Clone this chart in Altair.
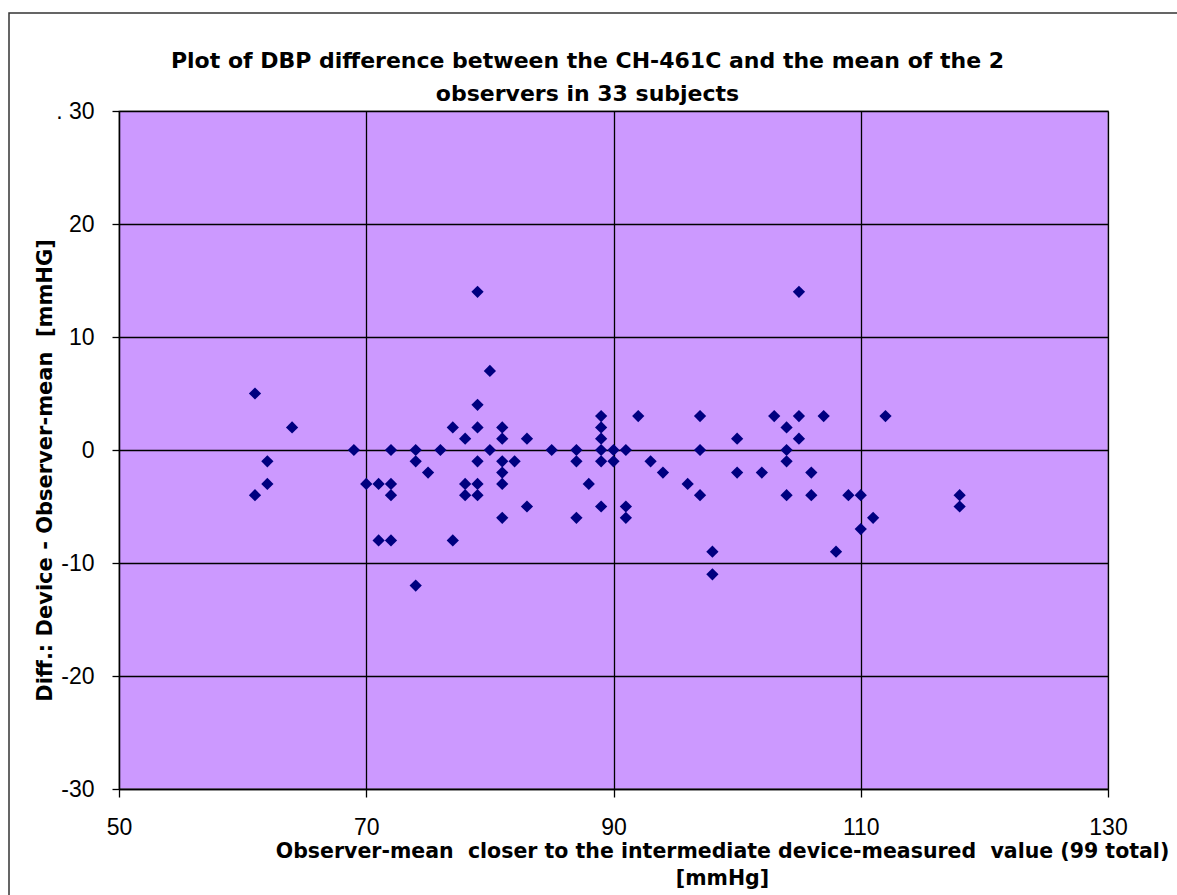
import altair as alt
import pandas as pd

# Observer-mean (x) and device - observer-mean difference (y)
obs_mean = [79, 80, 61, 64, 79, 77, 79, 81, 78, 81, 83, 69, 72, 74, 76, 80, 85,
            62, 74, 79, 81, 82, 75, 81, 62, 70, 71, 72, 78, 79, 81, 61, 72, 78, 79,
            83, 81, 71, 72, 77, 74,
            105, 89, 89, 89, 89, 90, 91, 87, 87, 89, 90, 92, 93, 94, 88, 89, 87, 91,
            91, 97, 97, 96, 97, 98, 98, 100, 100, 102, 103, 104, 105, 105, 107, 104,
            104, 106, 104, 106, 109, 108,
            112, 110, 111, 110, 118, 118]
diff = [14, 7, 5, 2, 4, 2, 2, 2, 1, 1, 1, 0, 0, 0, 0, 0, 0,
        -1, -1, -1, -1, -1, -2, -2, -3, -3, -3, -3, -3, -3, -3, -4, -4, -4, -4,
        -5, -6, -8, -8, -8, -12,
        14, 3, 2, 1, 0, 0, 0, 0, -1, -1, -1, 3, -1, -2, -3, -5, -6, -5,
        -6, 3, 0, -3, -4, -9, -11, 1, -2, -2, 3, 2, 3, 1, 3, 0,
        -1, -2, -4, -4, -4, -9,
        3, -4, -6, -7, -4, -5]

x_ticks = [50, 70, 90, 110, 130]
y_ticks = [-30, -20, -10, 0, 10, 20, 30]

title_lines = ["Plot of DBP difference between the CH-461C and the mean of the 2",
               "observers in 33 subjects"]
x_title = ["Observer-mean\u00a0 closer to the intermediate device-measured\u00a0 value (99 total)",
           "[mmHg]"]
y_title = "Diff.: Device - Observer-mean\u00a0 [mmHG]"

df = pd.DataFrame({"x": obs_mean, "y": diff})

FONT = "Liberation Sans"
BOLD_FONT = "DejaVu Sans"

points = alt.Chart(df).mark_point(
    shape="diamond", filled=True, color="#000080", size=150, opacity=1
).encode(
    x=alt.X("x:Q",
            scale=alt.Scale(domain=[50, 130], nice=False, zero=False),
            axis=alt.Axis(values=x_ticks, title=x_title, grid=True,
                          gridColor="#000000", gridWidth=1.3,
                          domainColor="#000000", domainWidth=1.3,
                          tickColor="#000000", tickSize=8, tickWidth=1.3,
                          labelFont=FONT, labelFontSize=23, labelColor="#000000",
                          labelPadding=19, labelFlush=False,
                          titleFont=BOLD_FONT, titleFontSize=20.5, titleFontWeight="bold",
                          titleColor="#000000", titleLineHeight=27,
                          titleX=603, titleAlign="center", titlePadding=2)),
    y=alt.Y("y:Q",
            scale=alt.Scale(domain=[-30, 30], nice=False, zero=False),
            axis=alt.Axis(values=y_ticks, title=y_title, grid=True,
                          gridColor="#000000", gridWidth=1.3,
                          domainColor="#000000", domainWidth=1.3,
                          tickColor="#000000", tickSize=7, tickWidth=1.3,
                          labelFont=FONT, labelFontSize=23, labelColor="#000000",
                          labelPadding=18, labelFlush=False,
                          labelExpr="datum.value == 30 ? '. 30' : toString(datum.value)",
                          titleFont=BOLD_FONT, titleFontSize=21, titleFontWeight="bold",
                          titleColor="#000000",
                          titleX=-74, titleY=359, titleBaseline="middle",
                          titleAngle=270)),
)

border = alt.Chart(pd.DataFrame({"a": [0]})).mark_rect(
    fillOpacity=0, stroke="#333333", strokeWidth=1.5
).encode(
    x=alt.value(-110), x2=alt.value(1075),
    y=alt.value(-98), y2=alt.value(800),
)

chart = alt.layer(border, points).properties(
    width=989, height=678,
    autosize=alt.AutoSizeParams(type="none"),
    padding={"left": 119, "top": 111, "right": 69, "bottom": 106},
    background="#ffffff",
    title=alt.TitleParams(text=title_lines, anchor="middle", dx=-26,
                          font=BOLD_FONT, fontSize=22, fontWeight="bold",
                          color="#000000", lineHeight=33, offset=-94),
).configure_view(
    fill="#CC99FF", stroke="#808080", strokeWidth=1.3
)

chart.save("out.html", embed_options={"renderer": "svg", "actions": False})
